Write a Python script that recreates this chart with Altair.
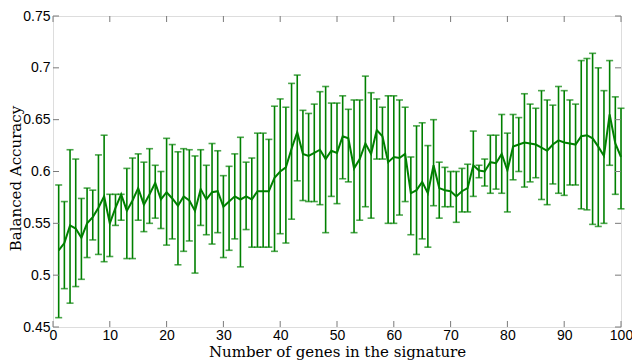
import altair as alt
import pandas as pd

genes = list(range(1, 101))
mean_acc = [
    0.524, 0.531, 0.548, 0.545, 0.536, 0.550, 0.556, 0.565, 0.576, 0.550,
    0.565, 0.578, 0.562, 0.572, 0.584, 0.568, 0.578, 0.589, 0.573, 0.580,
    0.574, 0.567, 0.576, 0.572, 0.562, 0.583, 0.573, 0.580, 0.581, 0.566,
    0.571, 0.576, 0.573, 0.576, 0.573, 0.581, 0.581, 0.581, 0.594, 0.600,
    0.604, 0.622, 0.638, 0.617, 0.615, 0.618, 0.621, 0.612, 0.620, 0.618,
    0.634, 0.632, 0.603, 0.612, 0.627, 0.617, 0.640, 0.634, 0.609, 0.614,
    0.613, 0.617, 0.579, 0.582, 0.590, 0.579, 0.606, 0.584, 0.582, 0.581,
    0.576, 0.581, 0.584, 0.606, 0.601, 0.600, 0.609, 0.608, 0.617, 0.601,
    0.624, 0.626, 0.628, 0.627, 0.626, 0.623, 0.620, 0.626, 0.630, 0.628,
    0.627, 0.626, 0.634, 0.635, 0.632, 0.624, 0.615, 0.655, 0.627, 0.614,
]
upper_acc = [
    0.587, 0.571, 0.621, 0.612, 0.574, 0.584, 0.582, 0.616, 0.635, 0.578,
    0.578, 0.578, 0.603, 0.613, 0.617, 0.609, 0.622, 0.606, 0.600, 0.632,
    0.626, 0.619, 0.622, 0.621, 0.615, 0.621, 0.606, 0.627, 0.620, 0.596,
    0.605, 0.617, 0.633, 0.609, 0.613, 0.637, 0.637, 0.631, 0.663, 0.670,
    0.662, 0.685, 0.693, 0.659, 0.656, 0.665, 0.677, 0.682, 0.666, 0.666,
    0.673, 0.660, 0.669, 0.669, 0.692, 0.676, 0.670, 0.662, 0.673, 0.673,
    0.669, 0.662, 0.614, 0.644, 0.647, 0.625, 0.650, 0.609, 0.604, 0.600,
    0.600, 0.603, 0.607, 0.639, 0.606, 0.612, 0.635, 0.635, 0.655, 0.637,
    0.655, 0.652, 0.675, 0.665, 0.661, 0.678, 0.669, 0.664, 0.682, 0.678,
    0.669, 0.665, 0.707, 0.709, 0.714, 0.700, 0.678, 0.707, 0.672, 0.661,
]
lower_acc = [
    0.459, 0.487, 0.473, 0.489, 0.496, 0.517, 0.534, 0.520, 0.513, 0.518,
    0.548, 0.553, 0.516, 0.516, 0.553, 0.542, 0.550, 0.555, 0.545, 0.529,
    0.535, 0.510, 0.523, 0.533, 0.502, 0.548, 0.539, 0.530, 0.541, 0.517,
    0.524, 0.535, 0.508, 0.544, 0.527, 0.527, 0.527, 0.527, 0.523, 0.540,
    0.531, 0.554, 0.591, 0.572, 0.571, 0.571, 0.568, 0.541, 0.576, 0.569,
    0.593, 0.590, 0.541, 0.553, 0.566, 0.555, 0.612, 0.612, 0.550, 0.550,
    0.558, 0.571, 0.539, 0.520, 0.535, 0.527, 0.567, 0.555, 0.566, 0.566,
    0.551, 0.561, 0.561, 0.576, 0.594, 0.586, 0.579, 0.583, 0.579, 0.561,
    0.592, 0.600, 0.585, 0.590, 0.594, 0.573, 0.568, 0.588, 0.579, 0.577,
    0.587, 0.587, 0.564, 0.563, 0.549, 0.547, 0.550, 0.606, 0.578, 0.564,
]
x_ticks = [0, 10, 20, 30, 40, 50, 60, 70, 80, 90, 100]
y_ticks = [0.45, 0.5, 0.55, 0.6, 0.65, 0.7, 0.75]

W, H = 568, 311
GREEN = "#008000"
FRAME = "#7a7a7a"

df = pd.DataFrame({"n": genes, "mean": mean_acc, "lo": lower_acc, "hi": upper_acc})
xt = pd.DataFrame({"t": x_ticks})
yt = pd.DataFrame({"t": y_ticks})

xscale = alt.Scale(domain=[0, 100], nice=False, zero=False)
yscale = alt.Scale(domain=[0.45, 0.75], nice=False, zero=False)

xaxis = alt.Axis(values=x_ticks, title="Number of genes in the signature", grid=False,
                 tickSize=0, domain=False, labelFontSize=14, labelFont="Liberation Sans",
                 labelColor="#000", labelPadding=1, titleFont="DejaVu Serif",
                 titleFontSize=15, titleFontWeight="normal", titleColor="#000",
                 titlePadding=2, labelFlush=False)
yaxis = alt.Axis(values=y_ticks, format=".2~f", title="Balanced Accuracy", grid=False,
                 tickSize=0, domain=False, labelFontSize=14, labelFont="Liberation Sans",
                 labelColor="#000", labelPadding=3, titleFont="DejaVu Serif",
                 titleFontSize=15, titleFontWeight="normal", titleColor="#000",
                 titleX=-30, titleY=162, labelFlush=False)


def X(f):
    return alt.X(f, scale=xscale, axis=xaxis)


def Y(f):
    return alt.Y(f, scale=yscale, axis=yaxis)


base = alt.Chart(df)

bars = base.mark_rule(color=GREEN, strokeWidth=1.6).encode(
    x=X("n:Q"), y=Y("lo:Q"), y2="hi:Q")
cap_hi = base.mark_tick(color=GREEN, orient="horizontal", size=7, thickness=1.6).encode(
    x=X("n:Q"), y=Y("hi:Q"))
cap_lo = base.mark_tick(color=GREEN, orient="horizontal", size=7, thickness=1.6).encode(
    x=X("n:Q"), y=Y("lo:Q"))
line = base.mark_line(color=GREEN, strokeWidth=2).encode(
    x=X("n:Q"), y=Y("mean:Q"))

tick_b = alt.Chart(xt).mark_rule(color=FRAME, strokeWidth=1).encode(
    x=X("t:Q"), y=alt.value(H), y2=alt.value(H - 6))
tick_t = alt.Chart(xt).mark_rule(color=FRAME, strokeWidth=1).encode(
    x=X("t:Q"), y=alt.value(0), y2=alt.value(6))
tick_l = alt.Chart(yt).mark_rule(color=FRAME, strokeWidth=1).encode(
    y=Y("t:Q"), x=alt.value(0), x2=alt.value(6))
tick_r = alt.Chart(yt).mark_rule(color=FRAME, strokeWidth=1).encode(
    y=Y("t:Q"), x=alt.value(W), x2=alt.value(W - 6))

chart = alt.layer(bars, cap_hi, cap_lo, line, tick_b, tick_t, tick_l, tick_r).properties(
    width=W, height=H,
    autosize=alt.AutoSizeParams(type="none"),
    padding={"left": 45, "top": 8, "right": 11, "bottom": 34},
).configure_view(stroke=FRAME, strokeWidth=1.2).configure(background="white")

chart.save("out.html", embed_options={"renderer": "svg", "actions": False})
